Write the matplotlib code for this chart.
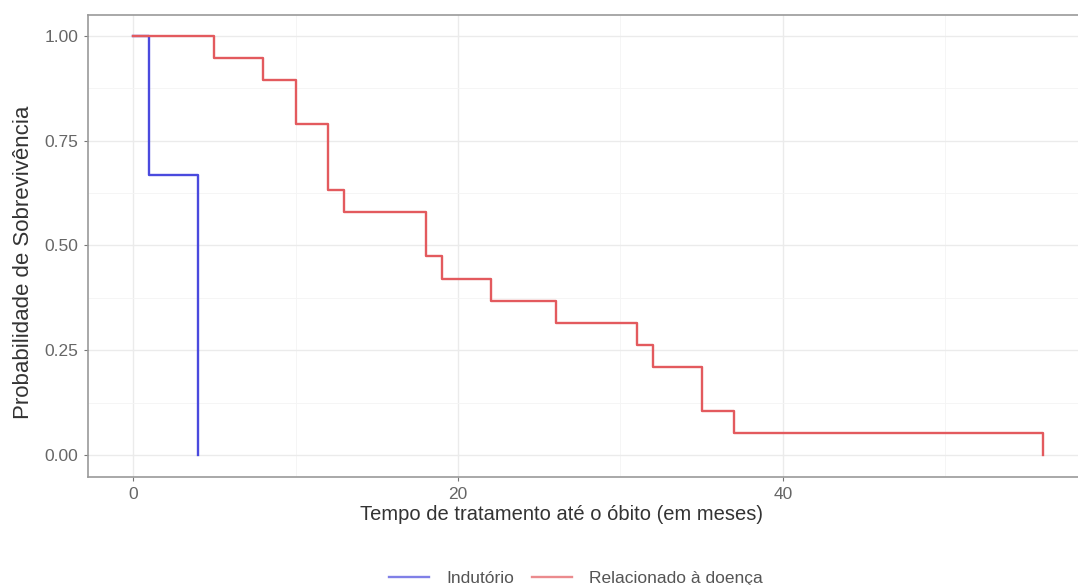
import matplotlib
matplotlib.use("Agg")
import matplotlib.pyplot as plt
import numpy as np

plt.rcParams['font.family'] = ['Liberation Sans', 'DejaVu Sans']

# curvas de Kaplan-Meier (tempo em meses, probabilidade de sobrevivencia)
t_indutorio = [0, 1, 4]
s_indutorio = [1.0, 0.667, 0.0]

t_doenca = [0, 5, 8, 10, 12, 13, 18, 19, 22, 26, 31, 32, 35, 37, 56]
s_doenca = [1.0, 0.947, 0.895, 0.789, 0.632, 0.579, 0.474, 0.421,
            0.368, 0.316, 0.263, 0.211, 0.105, 0.053, 0.0]

cor_ind = '#4a4ade'
cor_doe = '#e35a5e'

fig = plt.figure(figsize=(10.78, 5.85), dpi=100)
ax = fig.add_axes([88/1078, 1-477/585, 1000/1078, 462/585])

ax.step(t_indutorio, s_indutorio, where='post', color=cor_ind, lw=1.7, label='Indutório')
ax.step(t_doenca, s_doenca, where='post', color=cor_doe, lw=1.7, label='Relacionado à doença')

ax.set_xlim(-2.77, 58.77)
ax.set_ylim(-0.0525, 1.05)
ax.set_xticks([0, 20, 40])
ax.set_xticks([10, 30, 50], minor=True)
ax.set_yticks([0, 0.25, 0.5, 0.75, 1.0])
ax.set_yticks([0.125, 0.375, 0.625, 0.875], minor=True)
ax.set_yticklabels(['0.00', '0.25', '0.50', '0.75', '1.00'])
ax.grid(which='major', color='#ebebeb', lw=1.0)
ax.grid(which='minor', color='#f4f4f4', lw=0.6)
ax.set_axisbelow(True)
ax.tick_params(which='major', colors='#777777', labelcolor='#666666', labelsize=12.5,
               length=3, pad=4)
ax.tick_params(which='minor', length=0)
for s in ax.spines.values():
    s.set_color('#9a9a9a')
    s.set_linewidth(1.2)

ax.set_xlabel('Tempo de tratamento até o óbito (em meses)', fontsize=14.5, color='#333333')
ax.set_ylabel('Probabilidade de Sobrevivência', fontsize=16, color='#333333')
ax.xaxis.set_label_coords(0.474, -0.06)
ax.yaxis.set_label_coords(-0.054, 0.465)

leg = ax.legend(loc='center', bbox_to_anchor=(0.488, -0.219), ncol=2, frameon=False,
                fontsize=12.5, handlelength=2.3, columnspacing=1.0, handletextpad=1.0)
for txt in leg.get_texts():
    txt.set_color('#555555')
for ln in leg.get_lines():
    ln.set_alpha(0.7)

fig.savefig('out.png', dpi=100)
